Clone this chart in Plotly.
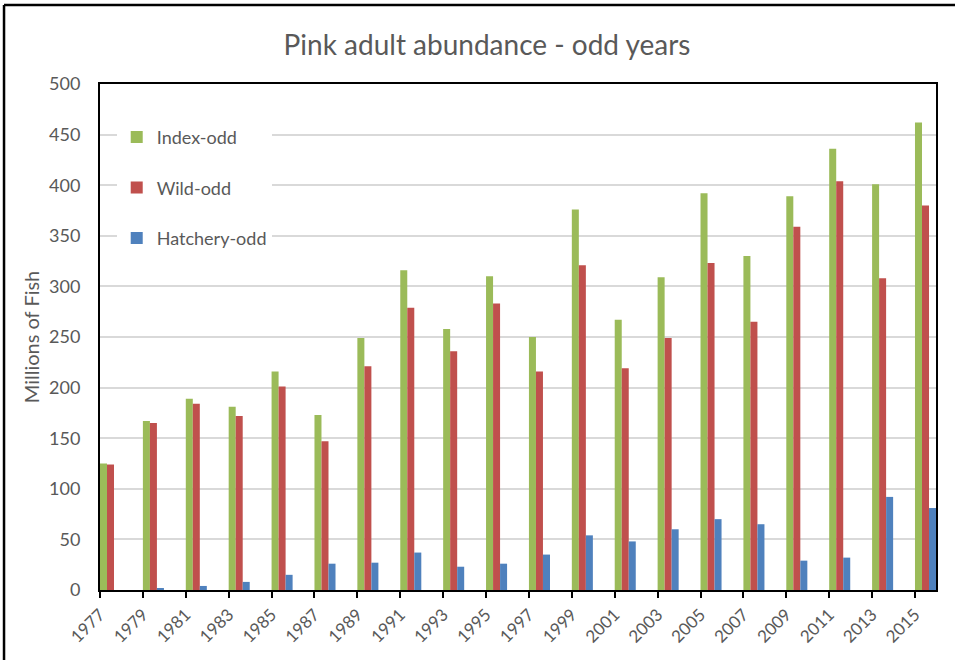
import plotly.graph_objects as go

# Pink salmon adult abundance, odd years (millions of fish)
years = [1977, 1979, 1981, 1983, 1985, 1987, 1989, 1991, 1993, 1995,
         1997, 1999, 2001, 2003, 2005, 2007, 2009, 2011, 2013, 2015]
index_odd = [125, 167, 189, 181, 216, 173, 249, 316, 258, 310,
             250, 376, 267, 309, 392, 330, 389, 436, 401, 462]
wild_odd = [124, 165, 184, 172, 201, 147, 221, 279, 236, 283,
            216, 321, 219, 249, 323, 265, 359, 404, 308, 380]
hatchery_odd = [0, 2, 4, 8, 15, 26, 27, 37, 23, 26,
                35, 54, 48, 60, 70, 65, 29, 32, 92, 81]

series = [
    ("Index-odd", index_odd, "#9BBB59"),
    ("Wild-odd", wild_odd, "#C0504D"),
    ("Hatchery-odd", hatchery_odd, "#4F81BD"),
]

BAR_W = 0.327
FONT = "Lato, 'Open Sans', sans-serif"
GREY = "#595959"

fig = go.Figure()
for i, (name, vals, color) in enumerate(series):
    fig.add_trace(go.Bar(
        x=years, y=vals, name=name,
        width=BAR_W, offset=i * BAR_W,
        marker=dict(color=color, line=dict(width=0)),
        legendgroup=name,
    ))

# Outer chart frame (left and top edges)
frame = dict(type="line", xref="paper", yref="paper",
             line=dict(color="black", width=2.5))
fig.add_shape(**frame, x0=-0.1148, x1=-0.1148, y0=-0.3, y1=1.156)
fig.add_shape(**frame, x0=-0.1148, x1=1.2, y0=1.156, y1=1.156)

fig.update_layout(
    width=955, height=660,
    margin=dict(l=100, r=19, t=84, b=70),
    paper_bgcolor="white", plot_bgcolor="white",
    barmode="overlay",
    font=dict(family=FONT, color=GREY),
    title=dict(text="Pink adult abundance - odd years",
               x=0.51, xanchor="center", xref="container",
               y=1 - 45 / 660, yanchor="middle", yref="container",
               font=dict(size=28, color=GREY, family=FONT)),
    showlegend=True,
    legend=dict(x=0.02, y=0.931, xanchor="left", yanchor="top",
                bgcolor="white", font=dict(size=18, color=GREY),
                tracegroupgap=24, itemsizing="constant"),
    xaxis=dict(
        range=[1977, 2015.98],
        tickmode="array", tickvals=years, ticktext=[str(y) for y in years],
        tickangle=-45, tickfont=dict(size=17, color=GREY),
        ticks="outside", ticklen=6, tickwidth=2, tickcolor="black",
        showline=True, linecolor="black", linewidth=2, mirror=True,
        showgrid=False, zeroline=False,
    ),
    yaxis=dict(
        range=[0, 500], dtick=50,
        tickfont=dict(size=18, color=GREY),
        ticks="", ticklabelstandoff=14,
        showline=True, linecolor="black", linewidth=2, mirror=True,
        showgrid=True, gridcolor="#D9D9D9", gridwidth=1.5,
        zeroline=False,
        title=dict(text="Millions of Fish", font=dict(size=20, color=GREY),
                   standoff=4),
    ),
)

fig.write_html("out.html")
